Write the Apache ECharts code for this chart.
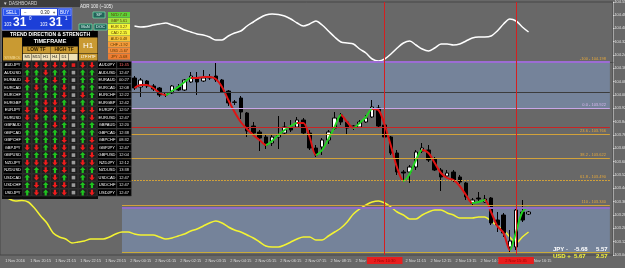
<!DOCTYPE html>
<html><head><meta charset="utf-8">
<script src="https://cdn.jsdelivr.net/npm/echarts@6/dist/echarts.min.js"></script>
<style>html,body{margin:0;padding:0;background:#686868;overflow:hidden}#c{width:625px;height:268px}</style>
</head><body><div id="c"></div>
<script>
// ---------- DATA ----------
const barCount = 98;            // 15-minute bars, first bar = 1 Nov 19:15
const firstCandleBar = 21;
const dayStartBar = 19;         // 2 Nov 00:00 separator
const timeLabels = ['1 Nov 2016','1 Nov 20:15','1 Nov 21:15','1 Nov 22:15','1 Nov 23:15','2 Nov 00:15','2 Nov 01:15','2 Nov 02:15','2 Nov 03:15','2 Nov 04:15','2 Nov 05:15','2 Nov 06:15','2 Nov 07:15','2 Nov 08:15','2 Nov 09:15','2 Nov 10:15','2 Nov 11:15','2 Nov 12:15','2 Nov 13:15','2 Nov 14:15','2 Nov 15:15','2 Nov 16:15'];
// USDJPY M15 candles [open, close, low, high], bars 21..84
const candles = [
[104.102,104.042,104.030,104.114],[104.048,104.090,103.988,104.102],[104.084,104.054,104.042,104.090],[104.054,104.036,104.024,104.066],
[104.042,104.000,103.988,104.048],[104.000,104.012,103.988,104.018],[104.012,104.054,104.006,104.060],[104.048,104.030,104.024,104.066],
[104.030,104.090,104.024,104.096],[104.078,104.114,104.072,104.138],[104.102,104.078,104.000,104.138],[104.084,104.102,104.078,104.150],
[104.102,104.108,104.090,104.126],[104.114,104.090,104.078,104.192],[104.090,104.018,104.012,104.096],[104.024,103.952,103.934,104.030],
[103.958,103.956,103.940,103.970],[103.982,103.898,103.856,103.994],[103.892,103.784,103.748,103.898],[103.814,103.772,103.760,103.838],
[103.778,103.742,103.664,103.790],[103.748,103.700,103.676,103.760],[103.712,103.748,103.694,103.766],[103.748,103.760,103.676,103.874],
[103.772,103.808,103.766,103.838],[103.808,103.790,103.778,103.850],[103.808,103.850,103.802,103.868],[103.850,103.772,103.766,103.862],
[103.772,103.682,103.670,103.790],[103.682,103.640,103.628,103.700],[103.688,103.730,103.640,103.742],[103.730,103.778,103.706,103.790],
[103.802,103.862,103.790,103.898],[103.880,103.838,103.820,103.892],[103.838,103.802,103.760,103.850],[103.808,103.814,103.790,103.820],
[103.808,103.838,103.802,103.850],[103.838,103.862,103.832,103.880],[103.868,103.928,103.862,103.970],[103.922,103.814,103.808,103.940],
[103.820,103.748,103.736,103.826],[103.748,103.652,103.640,103.754],[103.652,103.538,103.520,103.670],[103.538,103.532,103.490,103.550],
[103.538,103.568,103.472,103.580],[103.568,103.658,103.550,103.670],[103.664,103.682,103.652,103.712],[103.670,103.610,103.598,103.700],
[103.616,103.550,103.544,103.628],[103.550,103.508,103.424,103.562],[103.514,103.532,103.502,103.550],[103.538,103.490,103.478,103.550],
[103.508,103.478,103.466,103.520],[103.472,103.388,103.370,103.478],[103.352,103.370,103.334,103.382],[103.382,103.376,103.352,103.418],
[103.358,103.376,103.352,103.400],[103.382,103.232,103.220,103.388],[103.250,103.220,103.178,103.298],[103.280,103.172,103.148,103.292],
[103.088,103.124,103.058,103.190],[103.088,103.310,103.070,103.322],[103.298,103.250,103.238,103.370],[103.286,103.298,103.280,103.304]
];
// smoothed moving average over the candles, bars 21..84
const maLine = [104.042,104.060,104.060,104.042,104.012,104.000,104.024,104.048,104.078,104.102,104.102,104.108,104.108,104.096,104.048,103.970,
103.898,103.838,103.796,103.760,103.730,103.700,103.724,103.760,103.790,103.814,103.832,103.832,103.748,103.640,103.670,103.736,
103.808,103.880,103.838,103.802,103.832,103.868,103.916,103.910,103.820,103.694,103.562,103.484,103.526,103.610,103.670,103.652,
103.592,103.532,103.502,103.490,103.454,103.400,103.352,103.358,103.370,103.298,103.214,103.172,103.070,103.178,103.298,103.328];
// bar ranges where the MA is rising (green)
const maRising = [[26,30],[42,47],[50,54],[56,59],[64,67],[75,77],[81,84]];
// upper overlay (white), bars 21..84
const whiteLine = [36,35,35.5,37,38,39,37,35,32,30,28,27,25,22,22,26,29,31,36,40,44,47,48,47.5,46,43,39,36,38,41,
37,31,25,20,19,18,13,9,3,1,3,8,14,19,21,17,13,11,14,18,18,17,18,21,24,25,25,26,31,38,43,41,35,30];
// lower overlay (yellow), bars 0..84
const yellowLine = [58,53,51,51.5,50,44,36,29,19,15,13,9,10,11,13,13,13,15,18,20,20,18,17,17,17,15,13,14,16,18,
21,23,26,29,31,29,25,22,20,17,14,10,6,5,5,7,10,13,15,15,12,12,16,20,24,30,38,43,47,50,
51,49,45,40,37,33,33,37,40,42,42,39,37,34,34,34,35,35,31,26,22,15,9,15,20];
// horizontal levels
const levelPrices = [104.198,104.018,103.922,103.808,103.766,103.622,103.490,103.340,103.322,103.058];
const levelNames  = ['-100','','0.0','','23.6','38.2','61.8','110','',''];
const levelColors = ['#9c6cd4','#3c3c3c','#c9a6e6','#c82424','#d2a23a','#d2a23a','#d2a23a','#d2a23a','#8f6cc6','#c8aa3a'];
const zones = [[104.198,103.922],[103.322,103.058]];
const vLineBars = [61,82];
const vLineLabels = ['2 Nov 10:30','2 Nov 15:45'];
const axisBoxes = [[104.552,'104.552','#e01b1b'],[104.024,'104.024','#e01b1b'],[103.490,'103.490','#d42020'],[103.292,'103.292','#111111']];
// dashboard
const pairs = ['AUDJPY','AUDUSD','EURAUD','EURCAD','EURCHF','EURGBP','EURJPY','EURUSD','GBPAUD','GBPCAD','GBPCHF','GBPJPY','GBPUSD','NZDJPY','NZDUSD','USDCAD','USDCHF','USDJPY'];
const trendRows = ['DDDDDrDD','UUDUUgUU','DUUDUgUU','UDUUDgUU','UUUUDgDU','UUDDUgUU','DUDDDgDD','DDUUDgUD','UUUDUgUU','UUUUUgUU','UUUUDgUD','DDUDDgDD','UUUUDgUD','DDDDDgDD','UUDUDgUU','UDUDUgUD','UDUDDgUU','UDUDDgUD'];
const pairTimes = ['11:45','12:47','00:27','12:08','12:22','12:42','12:57','12:47','12:20','12:38','08:32','12:47','12:04','12:12','13:38','12:47','12:47','12:47'];
const strengthText = ['NZD 7.43','GBP 5.61','EUR 3.27','CAD 2.15','AUD 0.48','CHF -1.92','USD -5.67','JPY -5.68'];
const strengthColors = ['#5fd23a','#a6e23a','#f4f43a','#f4f43a','#f6c23a','#f49a3a','#f28a3a','#ef7c30'];
const currencyRows = [['JPY','-','-5.68','5.57','#ffffff'],['USD','+','5.67','2.57','#f4f43a']];

// ---------- BUILD ----------
const cats = Array.from({length: barCount}, (_, i) => i);
const pad = (arr, start) => Array(start).fill('-').concat(arr);
const candleData = pad(candles, firstCandleBar);
const maData = pad(maLine, firstCandleBar);
const whiteData = pad(whiteLine, firstCandleBar);
const lastBar = barCount - 1;
const F = '"Liberation Sans", "DejaVu Sans", sans-serif';

const markLineData = [];
levelPrices.forEach((p, i) => {
  const dotted = levelNames[i] === '61.8';
  markLineData.push([
    {coord: [dayStartBar, p], lineStyle: {color: levelColors[i], width: (i === 0 || i === 8) ? 2 : 1, type: dotted ? [2, 1] : 'solid'},
     label: {show: !!levelNames[i], position: 'insideEndTop', distance: [4, 1],
       formatter: levelNames[i] + ' - ' + p.toFixed(3), color: i === 2 ? '#d9b8f0' : '#e6a83a', fontSize: 4, fontFamily: F}},
    {coord: [lastBar, p]}
  ]);
});
vLineBars.forEach((b, i) => markLineData.push({xAxis: b, lineStyle: {color: '#d42020', width: 1, type: 'solid'},
  label: {show: true, position: 'start', formatter: vLineLabels[i], backgroundColor: '#e81e1e', color: '#9a0000',
    fontSize: 4, fontFamily: F, padding: [1.5, 7], distance: 2}}));
axisBoxes.forEach(([p, t, c]) => markLineData.push({yAxis: p, lineStyle: {opacity: 0},
  label: {show: true, position: 'end', formatter: t, backgroundColor: c, color: '#fff', fontSize: 3.8,
    fontFamily: F, padding: [1, 1], distance: 0}}));

const markAreaData = zones.map(([a, b]) => [{coord: [dayStartBar, a]}, {coord: [lastBar, b]}]);

// ---------- DASHBOARD GRAPHICS ----------
const G = [];
function R(x, y, w, h, fill, stroke) { G.push({type: 'rect', shape: {x, y, width: w, height: h}, style: {fill, stroke: stroke || null, lineWidth: stroke ? 0.6 : 0}, silent: true, z: 100}); }
function T(x, y, s, color, size, opt) { G.push({type: 'text', x, y, style: Object.assign({text: s, fill: color, fontSize: size, fontFamily: F, align: 'left', verticalAlign: 'middle'}, opt || {}), silent: true, z: 101}); }
function arrow(cx, cy, up) {
  const d = up ? 1 : -1;
  const pts = [[cx, cy - 3 * d], [cx + 2.8, cy], [cx + 1.1, cy], [cx + 1.1, cy + 2.8 * d], [cx - 1.1, cy + 2.8 * d], [cx - 1.1, cy], [cx - 2.8, cy]];
  G.push({type: 'polygon', shape: {points: pts}, style: {fill: up ? '#1fc41f' : '#ee1c1c'}, silent: true, z: 102});
}
// tab
R(0, 0, 80, 7, '#3d3d3d'); T(3, 3.6, '▼ DASHBOARD', '#d0d0d0', 4.5);
// trade block
R(2, 8, 70, 22, '#1c3fd8', '#6f86f0');
R(3.5, 9, 16, 6.5, '#2a55ee', '#9fb2ff'); T(11.5, 12.3, 'SELL', '#fff', 4.5, {align: 'center'});
R(21, 9, 36, 6.5, '#ffffff'); T(24, 12.3, '−', '#333', 4.5); T(45, 12.3, '0.30', '#111', 4.5, {align: 'center'}); T(54, 12.3, '+', '#333', 4.5, {align: 'center'});
R(58.5, 9, 12.5, 6.5, '#2a55ee', '#9fb2ff'); T(64.7, 12.3, 'BUY', '#fff', 4.5, {align: 'center'});
T(4, 25, '103', '#fff', 4.5); T(13, 23, '31', '#fff', 12, {fontWeight: 'bold'}); T(29, 19, '0', '#fff', 4.5);
T(40, 25, '103', '#fff', 4.5); T(49, 23, '31', '#fff', 12, {fontWeight: 'bold'}); T(65, 19, '1', '#fff', 4.5);
// ADR + buttons
T(80, 6.5, 'ADR 100 (~105)', '#f0f0f0', 4.5);
R(93, 12, 12, 6, '#24635a', '#7fb'); T(99, 15.2, 'SP', '#e8fff8', 4, {align: 'center'});
R(79, 24, 13, 6, '#24635a', '#7fb'); T(85.5, 27.2, 'MaN', '#e8fff8', 4, {align: 'center'});
R(94, 24, 13, 6, '#24635a', '#7fb'); T(100.5, 27.2, 'DOC', '#e8fff8', 4, {align: 'center'});
// currency strength list
strengthText.forEach((s, i) => { R(108, 12 + i * 6, 22, 5.6, strengthColors[i]); T(119, 15 + i * 6, s, '#5a3a00', 3.8, {align: 'center'}); });
// trend table header
R(2, 31, 96, 168, '#0e0e0e');
R(3, 31, 94, 6, '#000'); T(50, 34.2, 'TREND DIRECTION & STRENGTH', '#fff', 5, {align: 'center', fontWeight: 'bold'});
R(3, 37.5, 19, 23, '#c99a32'); T(12.5, 57.5, 'SYMBOL', '#f4dc9a', 4, {align: 'center'});
R(22.8, 37.5, 55, 8.5, '#000'); T(50, 41.8, 'TIMEFRAME', '#fff', 5.5, {align: 'center', fontWeight: 'bold'});
R(22.8, 46.5, 27.5, 7, '#c99a32'); T(36.5, 50, 'LOW TF', '#2a1a00', 4.8, {align: 'center', fontWeight: 'bold'});
R(50.5, 46.5, 27.3, 7, '#c99a32'); T(64, 50, 'HIGH TF', '#2a1a00', 4.8, {align: 'center', fontWeight: 'bold'});
R(79, 37.5, 18.5, 16, '#c99a32'); T(88.2, 45.5, 'H1', '#fff', 8, {align: 'center'});
R(79, 54, 18.5, 6.5, '#c99a32'); T(88.2, 57.3, 'LTF HTF', '#fff', 3.8, {align: 'center'});
['M5', 'M15', 'H1', 'H4', 'D1', ''].forEach((s, j) => { R(22.8 + j * 9.2, 54, 8.8, 6.5, '#f1e2b6'); T(27.2 + j * 9.2, 57.3, s, '#222', 4, {align: 'center'}); });
// rows
pairs.forEach((p, i) => {
  const y = 61.5 + i * 7.5, cy = y + 3.6;
  R(3, y, 19.3, 7, '#000', '#3a3a3a'); T(12.6, cy, p, '#fff', 4, {align: 'center'});
  const st = trendRows[i];
  for (let j = 0; j < 8; j++) {
    const cx = 27.2 + j * 9.25;
    R(cx - 4.4, y, 8.8, 7, '#1e1e1e', '#3a3a3a');
    const c = st[j];
    if (c === 'U') arrow(cx, cy, true);
    else if (c === 'D') arrow(cx, cy, false);
    else R(cx - 1.8, cy - 1.8, 3.6, 3.6, c === 'r' ? '#e01e1e' : '#9b9b9b');
  }
  R(97.5, y, 19, 7, '#000', '#3a3a3a'); T(107, cy, p, '#fff', 4, {align: 'center'});
  R(116.8, y, 14.5, 7, '#000', '#3a3a3a'); T(124, cy, pairTimes[i], i === 0 ? '#ff6a6a' : '#e0e0e0', 4, {align: 'center'});
});
// currency summary, bottom right
currencyRows.forEach((r, i) => {
  const y = 249 + i * 7;
  T(553, y, r[0] + ' ' + r[1], r[4], 6, {fontWeight: 'bold'});
  T(574, y, r[2], r[4], 6, {fontWeight: 'bold'});
  T(596, y, r[3], r[4], 6, {fontWeight: 'bold'});
});

// ---------- CHART ----------
const chart = echarts.init(document.getElementById('c'), null, {renderer: 'canvas'});
chart.setOption({
  backgroundColor: '#686868',
  animation: false,
  grid: {left: 0, right: 12, top: 2, bottom: 13, show: true, borderColor: '#474747', borderWidth: 1, containLabel: false, outerBoundsMode: 'none'},
  xAxis: {type: 'category', data: cats, boundaryGap: true,
    axisLine: {show: true, lineStyle: {color: '#4a4a4a'}},
    axisTick: {show: true, interval: 3, length: 3, alignWithLabel: true, lineStyle: {color: '#d8d8d8'}},
    axisLabel: {interval: 3, formatter: (v, i) => timeLabels[i / 4] || '', color: '#dcdcdc', fontSize: 3.9, fontFamily: F, align: 'left', margin: 4, padding: [0, 0, 0, 2]},
    splitLine: {show: false}},
  yAxis: [
    {type: 'value', position: 'right', min: 103.04, max: 104.558, interval: 0.08,
      axisLine: {show: true, lineStyle: {color: '#a5a5a5'}}, axisTick: {show: true, length: 1.5, lineStyle: {color: '#ddd'}},
      axisLabel: {color: '#e2e2e2', fontSize: 3.8, fontFamily: F, margin: 1.5, formatter: v => v.toFixed(3)}, splitLine: {show: false}},
    {type: 'value', min: -193, max: 60, show: false},
    {type: 'value', min: -3, max: 250, show: false}
  ],
  visualMap: {show: false, type: 'piecewise', seriesIndex: 2, dimension: 0,
    pieces: maRising.map(([a, b]) => ({gte: a, lte: b, color: '#22d022'})), outOfRange: {color: '#e01414'}},
  graphic: G,
  series: [
    {type: 'line', data: [], z: 1, silent: true,
      markArea: {silent: true, itemStyle: {color: '#75839a'}, data: markAreaData},
      markLine: {silent: true, symbol: ['none', 'none'], data: markLineData}},
    {type: 'candlestick', data: candleData, barWidth: 4, z: 3,
      itemStyle: {color: '#ffffff', color0: '#000000', borderColor: '#000000', borderColor0: '#000000', borderWidth: 1}},
    {type: 'line', data: maData, showSymbol: false, smooth: 0.3, lineStyle: {width: 2}, z: 4},
    {type: 'line', yAxisIndex: 1, data: whiteData, showSymbol: false, smooth: 0.3, lineStyle: {color: '#ffffff', width: 1.5}, z: 3},
    {type: 'line', yAxisIndex: 2, data: yellowLine, showSymbol: false, smooth: 0.3, lineStyle: {color: '#f4f432', width: 1.5}, z: 3}
  ]
});
</script></body></html>
